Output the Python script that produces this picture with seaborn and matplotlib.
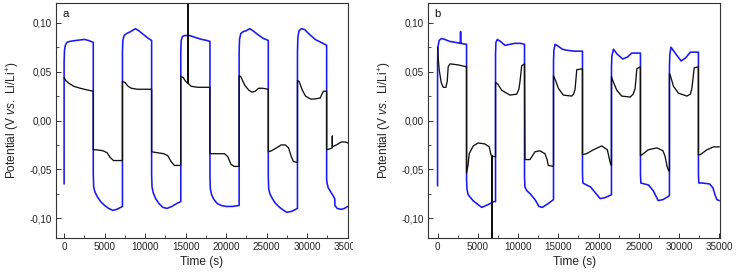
import matplotlib
matplotlib.use("Agg")
import matplotlib.pyplot as plt
import seaborn as sns
import pandas as pd
from matplotlib.ticker import FuncFormatter, MultipleLocator
from matplotlib.transforms import Bbox

# ---------------- data (time in s, potential in V) ----------------
a_blue_t = [0, 0, 50, 150, 350, 700, 1500, 2500, 3000, 3600,
            3600, 3650, 3800, 4100, 4500, 5000, 5500, 6000, 6500, 7200,
            7200, 7250, 7400, 7700, 8200, 8800, 9200, 9800, 10400, 10800,
            10800, 10850, 11000, 11300, 11700, 12200, 12700, 13300, 13900, 14400,
            14400, 14450, 14600, 14900, 15500, 16200, 17000, 17600, 18000,
            18000, 18050, 18200, 18500, 18900, 19400, 20000, 20800, 21600,
            21600, 21650, 21800, 22100, 22500, 22900, 23300, 23900, 24600, 25200,
            25200, 25250, 25400, 25700, 26100, 26600, 27100, 27500, 28100, 28800,
            28800, 28850, 29000, 29300, 29700, 30300, 31000, 31700, 32400,
            32400, 32450, 32600, 32900, 33200, 33400, 33420, 33700, 34200, 34600, 35000]
a_blue_v = [-0.065, 0.060, 0.072, 0.077, 0.080, 0.081, 0.082, 0.083, 0.082, 0.080,
            -0.055, -0.068, -0.073, -0.078, -0.083, -0.087, -0.090, -0.092, -0.091, -0.088,
            0.070, 0.082, 0.087, 0.089, 0.091, 0.094, 0.092, 0.088, 0.084, 0.082,
            -0.055, -0.068, -0.074, -0.080, -0.085, -0.089, -0.090, -0.088, -0.085, -0.083,
            0.070, 0.082, 0.086, 0.087, 0.087, 0.085, 0.083, 0.082, 0.081,
            -0.058, -0.070, -0.076, -0.081, -0.085, -0.087, -0.088, -0.088, -0.087,
            0.070, 0.083, 0.089, 0.091, 0.092, 0.094, 0.092, 0.088, 0.084, 0.082,
            -0.058, -0.070, -0.075, -0.080, -0.085, -0.089, -0.092, -0.094, -0.093, -0.090,
            0.070, 0.085, 0.092, 0.094, 0.093, 0.088, 0.083, 0.080, 0.077,
            -0.060, -0.064, -0.069, -0.073, -0.077, -0.080, -0.087, -0.090, -0.091, -0.090, -0.088]

a_black_t = [0, 200, 600, 1200, 2000, 3000, 3600,
             3600, 4000, 4800, 5300, 5700, 6100, 7200,
             7200, 7500, 7900, 8300, 9000, 10000, 10800,
             10800, 11500, 12300, 12800, 13200, 13600, 14400,
             14400, 14700, 15000, 15300, 15300, 15300, 15700, 16500, 17500, 18000,
             18000, 19000, 19800, 20200, 20600, 21000, 21600,
             21600, 21800, 22300, 22800, 23200, 23600, 24000, 24500, 25200,
             25200, 25600, 26200, 26800, 27300, 27700, 28000, 28300, 28800,
             28800, 29000, 29400, 29800, 30400, 30900, 31600, 32000, 32400,
             32400, 32800, 33100, 33100, 33100, 33600, 34200, 34700, 35000]
a_black_v = [0.044, 0.041, 0.038, 0.035, 0.033, 0.031, 0.030,
             -0.030, -0.030, -0.031, -0.033, -0.038, -0.041, -0.041,
             0.040, 0.039, 0.035, 0.033, 0.032, 0.032, 0.032,
             -0.032, -0.033, -0.034, -0.036, -0.042, -0.046, -0.046,
             0.045, 0.044, 0.040, 0.038, 0.200, 0.038, 0.035, 0.034, 0.034, 0.034,
             -0.034, -0.034, -0.034, -0.037, -0.045, -0.047, -0.047,
             0.046, 0.045, 0.036, 0.031, 0.029, 0.030, 0.033, 0.033, 0.032,
             -0.032, -0.031, -0.028, -0.025, -0.025, -0.028, -0.036, -0.042, -0.043,
             0.041, 0.040, 0.031, 0.025, 0.022, 0.022, 0.023, 0.030, 0.030,
             -0.030, -0.029, -0.028, -0.016, -0.027, -0.025, -0.022, -0.022, -0.023]

b_blue_t = [0, 0, 60, 200, 500, 900, 1500, 2200, 2860, 2860, 2860, 3600,
            3600, 3650, 3800, 4400, 5000, 5500, 6300, 7000, 7200,
            7200, 7250, 7420, 7800, 8370, 9000, 9600, 10300, 10800,
            10800, 10850, 11100, 11500, 12100, 12600, 13000, 13750, 14400,
            14400, 14450, 14600, 15000, 15500, 16000, 17000, 18000,
            18000, 18050, 18500, 19000, 19600, 20200, 20800, 21600,
            21600, 21650, 21850, 22300, 23000, 23600, 24100, 25200,
            25200, 25250, 25700, 26200, 26800, 27400, 28000, 28800,
            28800, 28850, 29000, 29600, 30250, 30800, 31400, 32400,
            32400, 32450, 32900, 33800, 34200, 34500, 34700, 35000]
b_blue_v = [-0.067, 0.060, 0.076, 0.082, 0.084, 0.083, 0.081, 0.080, 0.079, 0.091, 0.079, 0.078,
            -0.060, -0.070, -0.076, -0.082, -0.086, -0.089, -0.086, -0.083, -0.083,
            0.068, 0.080, 0.083, 0.081, 0.077, 0.078, 0.079, 0.079, 0.078,
            -0.058, -0.068, -0.072, -0.075, -0.081, -0.088, -0.089, -0.085, -0.081,
            0.060, 0.072, 0.078, 0.076, 0.073, 0.072, 0.071, 0.071,
            -0.055, -0.064, -0.066, -0.068, -0.074, -0.080, -0.079, -0.076,
            0.055, 0.066, 0.073, 0.068, 0.063, 0.065, 0.069, 0.069,
            -0.055, -0.064, -0.065, -0.066, -0.072, -0.082, -0.081, -0.077,
            0.055, 0.068, 0.075, 0.068, 0.061, 0.064, 0.070, 0.070,
            -0.055, -0.064, -0.064, -0.065, -0.069, -0.077, -0.081, -0.082]

b_black_t = [0, 100, 200, 450, 700, 1030, 1200, 1320, 1550, 2500, 3600,
             3600, 3800, 3930, 4430, 5050, 5880, 6420, 6630, 6750, 6750, 6750, 7000, 7200,
             7200, 7500, 7960, 8990, 9830, 10100, 10240, 10450, 10800,
             10860, 11480, 12100, 12720, 13340, 13600, 13750, 14400,
             14400, 14700, 15000, 15620, 16660, 16900, 17080, 17290, 18000,
             18000, 18500, 19350, 20390, 21090, 21300, 21510, 21600,
             21600, 21800, 22260, 22880, 23920, 24300, 24540, 24750, 25200,
             25200, 25400, 26160, 27240, 28000, 28270, 28500, 28680, 28800,
             28800, 28950, 29300, 29920, 30970, 31400, 31590, 31880, 32400,
             32400, 32620, 33450, 34280, 35000]
b_black_v = [0.075, 0.062, 0.052, 0.039, 0.034, 0.034, 0.040, 0.055, 0.058, 0.057, 0.055,
             -0.054, -0.045, -0.034, -0.026, -0.023, -0.024, -0.027, -0.035, -0.036, -0.200, -0.036, -0.037, -0.037,
             0.039, 0.037, 0.031, 0.026, 0.027, 0.032, 0.040, 0.056, 0.058,
             -0.040, -0.040, -0.032, -0.031, -0.034, -0.040, -0.046, -0.047,
             0.046, 0.040, 0.033, 0.026, 0.025, 0.027, 0.032, 0.052, 0.053,
             -0.035, -0.034, -0.030, -0.026, -0.030, -0.038, -0.045, -0.046,
             0.045, 0.040, 0.031, 0.025, 0.024, 0.027, 0.033, 0.053, 0.055,
             -0.036, -0.035, -0.030, -0.028, -0.031, -0.037, -0.047, -0.051, -0.052,
             0.048, 0.045, 0.035, 0.028, 0.025, 0.027, 0.033, 0.054, 0.055,
             -0.035, -0.035, -0.030, -0.027, -0.027]

x_ticks = [0, 5000, 10000, 15000, 20000, 25000, 30000, 35000]
y_ticks = [-0.10, -0.05, 0.00, 0.05, 0.10]
panel_labels = ["a", "b"]
x_label = "Time (s)"
y_label = r"Potential (V $\mathit{vs.}$ Li/Li$^{+}$)"

BLUE = "#1818f2"
BLACK = "#111111"

# ---------------- styling ----------------
sns.set_theme(style="ticks")
plt.rcParams["font.family"] = ["Liberation Sans", "DejaVu Sans"]
plt.rcParams["mathtext.fontset"] = "custom"
plt.rcParams["mathtext.rm"] = "Liberation Sans"
plt.rcParams["mathtext.it"] = "Liberation Sans:italic"

fig = plt.figure(figsize=(7.39, 2.77), dpi=100)
W, H = 739, 277
ax_a = fig.add_axes([56 / W, (H - 237.7) / H, (347.7 - 56) / W, (237.7 - 3.3) / H])
ax_b = fig.add_axes([428.3 / W, (H - 237.7) / H, (720 - 428.3) / W, (237.7 - 3.3) / H])

panels = [
    (ax_a, a_blue_t, a_blue_v, a_black_t, a_black_v, (-1000, 35000)),
    (ax_b, b_blue_t, b_blue_v, b_black_t, b_black_v, (-1150, 35080)),
]

comma = FuncFormatter(lambda v, p: f"{v:.2f}".replace(".", ",").replace("-0,00", "0,00"))

for (ax, bt, bv, kt, kv, xl), lab in zip(panels, panel_labels):
    df_blue = pd.DataFrame({"t": bt, "v": bv})
    df_black = pd.DataFrame({"t": kt, "v": kv})
    sns.lineplot(data=df_blue, x="t", y="v", sort=False, estimator=None,
                 color=BLUE, linewidth=1.15, ax=ax)
    sns.lineplot(data=df_black, x="t", y="v", sort=False, estimator=None,
                 color=BLACK, linewidth=0.95, ax=ax)
    ax.set_xlim(*xl)
    ax.set_ylim(-0.12, 0.12)
    ax.set_xticks(x_ticks)
    ax.set_yticks(y_ticks)
    ax.xaxis.set_minor_locator(MultipleLocator(2500))
    ax.yaxis.set_minor_locator(MultipleLocator(0.025))
    ax.yaxis.set_major_formatter(comma)
    ax.tick_params(which="major", direction="in", length=3.5, width=0.7,
                   color="#333333", labelsize=7.1, labelcolor="#222222", pad=3)
    ax.tick_params(which="minor", direction="in", length=2, width=0.6, color="#333333")
    for s in ax.spines.values():
        s.set_visible(True)
        s.set_color("#333333")
        s.set_linewidth(0.8)
    ax.set_xlabel(x_label, fontsize=8.6, color="#222222", labelpad=3)
    ax.set_ylabel(y_label, fontsize=8.6, color="#222222", labelpad=6)
    ax.text(0.022, 0.975, lab, transform=ax.transAxes, ha="left", va="top",
            fontsize=8.2, color="#111111")

# panel a was cropped: the last x tick label is cut at the right edge
fig.canvas.draw()
clip = Bbox.from_extents(0, 0, 353, H)
for t in ax_a.get_xticklabels():
    t.set_clip_box(clip)
    t.set_clip_on(True)

fig.savefig("out.png", dpi=100)
